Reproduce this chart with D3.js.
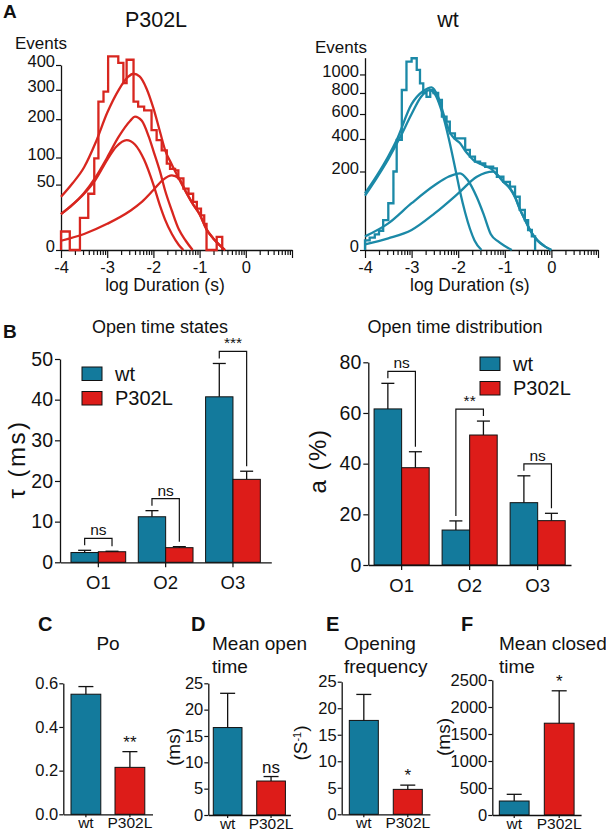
<!DOCTYPE html>
<html><head><meta charset="utf-8">
<script src="https://cdn.jsdelivr.net/npm/d3@7"></script>
<style>
body{margin:0;background:#fff}
svg{display:block}
text{font-family:"Liberation Sans",Arial,Helvetica,sans-serif;fill:#111}
</style>
</head><body>
<svg id="fig" width="606" height="833"></svg>
<script>
// ================= DATA =================
// Panel A: dwell-time histograms (log10 duration in s, events on sqrt axis)
const logMajorTicks = [-4, -3, -2, -1, 0, 1];
const p302lEventTicks = [0, 50, 100, 200, 300, 400];
const wtEventTicks = [0, 200, 400, 600, 800, 1000];

const p302lBinEdges = [-4.0, -3.81, -3.59, -3.41, -3.28, -3.19, -3.08, -2.98, -2.76, -2.65, -2.58, -2.43, -2.33, -2.2, -2.04, -1.93, -1.82, -1.71, -1.64, -1.53, -1.46, -1.35, -1.24, -1.14, -1.06, -0.97, -0.90, -0.85, -0.63, -0.51];
const p302lCounts   = [4, 0, 12, 37, 98, 257, 293, 438, 409, 326, 423, 257, 240, 228, 168, 141, 116, 87, 77, 74, 60, 44, 37, 27, 20, 14, 8, 0, 2];

const p302lFitTotal = [[-4.0,33],[-3.75,52],[-3.5,80],[-3.25,135],[-3.0,220],[-2.75,300],[-2.55,350],[-2.43,363],[-2.3,352],[-2.15,305],[-2.0,235],[-1.85,160],[-1.75,118],[-1.6,85],[-1.45,60],[-1.3,40],[-1.15,25],[-1.0,15],[-0.85,5],[-0.7,1.5],[-0.55,0.2],[-0.45,0]];
const p302lFitComp1 = [[-4.0,15],[-3.75,24],[-3.5,37],[-3.25,58],[-3.0,95],[-2.8,125],[-2.58,141],[-2.4,130],[-2.2,95],[-2.0,50],[-1.85,22],[-1.75,11],[-1.6,3],[-1.45,0.3],[-1.35,0]];
const p302lFitComp2 = [[-4.0,15],[-3.75,24],[-3.5,38],[-3.25,62],[-3.0,100],[-2.75,150],[-2.5,195],[-2.4,208],[-2.25,195],[-2.1,150],[-2.0,115],[-1.85,70],[-1.75,42],[-1.6,18],[-1.45,5],[-1.3,1],[-1.15,0]];
const p302lFitComp3 = [[-4.0,1],[-3.5,3],[-3.0,8],[-2.5,18],[-2.25,27],[-2.0,42],[-1.8,57],[-1.6,65],[-1.45,60],[-1.3,40],[-1.15,25],[-1.0,15],[-0.85,5],[-0.7,1.5],[-0.55,0.2],[-0.45,0]];

const wtBinEdges = [-4.0, -3.9, -3.79, -3.7, -3.61, -3.5, -3.39, -3.32, -3.21, -3.11, -3.0, -2.89, -2.82, -2.75, -2.68, -2.6, -2.53, -2.43, -2.35, -2.25, -2.18, -2.07, -1.96, -1.85, -1.75, -1.64, -1.53, -1.42, -1.25, -1.17, -1.03, -0.89, -0.78, -0.68, -0.57, -0.50, -0.42, -0.35];
const wtCounts   = [3, 5, 8, 12, 29, 71, 200, 393, 831, 1151, 1193, 1052, 902, 800, 760, 830, 800, 730, 577, 535, 442, 405, 405, 325, 283, 253, 244, 225, 216, 174, 151, 130, 92, 52, 29, 13, 6];

const wtFitTotal = [[-4.0,104],[-3.75,178],[-3.5,285],[-3.32,393],[-3.0,690],[-2.75,820],[-2.57,859],[-2.43,760],[-2.3,580],[-2.18,450],[-2.07,400],[-1.96,370],[-1.85,320],[-1.75,285],[-1.64,255],[-1.53,242],[-1.42,228],[-1.3,215],[-1.17,185],[-1.03,152],[-0.89,125],[-0.78,92],[-0.68,55],[-0.57,30],[-0.45,12],[-0.3,3],[-0.15,0.5],[0.0,0]];
const wtFitComp1 = [[-4.0,96],[-3.75,168],[-3.5,268],[-3.25,410],[-3.0,600],[-2.8,760],[-2.62,830],[-2.5,790],[-2.35,620],[-2.2,400],[-2.05,200],[-1.96,110],[-1.85,45],[-1.75,15],[-1.65,3],[-1.5,0]];
const wtFitComp2 = [[-4.0,6],[-3.5,23],[-3.0,71],[-2.5,137],[-2.2,175],[-1.96,191],[-1.8,160],[-1.6,90],[-1.45,40],[-1.3,8],[-1.15,2.5],[-1.0,0.5],[-0.85,0]];
const wtFitComp3 = [[-4.0,1],[-3.5,4.4],[-3.0,13],[-2.5,44],[-2.0,104],[-1.6,174],[-1.25,199],[-1.03,150],[-0.89,122],[-0.78,90],[-0.68,55],[-0.57,30],[-0.45,12],[-0.3,3],[-0.15,0.5],[0.0,0]];

// Panel B
const states = ["O1", "O2", "O3"];
const genotypes = ["wt", "P302L"];
const tauTicks = [0, 10, 20, 30, 40, 50];
const tauWt = [2.4, 11.2, 40.7];
const tauWtErr = [0.55, 1.5, 8.2];
const tauP302L = [2.6, 3.6, 20.4];
const tauP302LErr = [0.12, 0.25, 2.0];
const tauSig = ["ns", "ns", "***"];

const areaTicks = [0, 20, 40, 60, 80];
const areaWt = [61.6, 13.8, 24.6];
const areaWtErr = [10.1, 3.6, 10.6];
const areaP302L = [38.4, 51.3, 17.5];
const areaP302LErr = [6.3, 5.5, 2.9];
const areaSig = ["ns", "**", "ns"];

// Panels C-F (wt, P302L)
const poTicks = [0, 0.2, 0.4, 0.6];
const poValues = [0.55, 0.215];
const poErr = [0.035, 0.072];
const poSig = "**";

const meanOpenTicks = [0, 5, 10, 15, 20, 25];
const meanOpenValues = [16.6, 6.45];
const meanOpenErr = [6.5, 0.85];
const meanOpenSig = "ns";

const openFreqTicks = [0, 5, 10, 15, 20, 25];
const openFreqValues = [17.7, 4.7];
const openFreqErr = [4.9, 0.8];
const openFreqSig = "*";

const meanClosedTicks = [0, 500, 1000, 1500, 2000, 2500];
const meanClosedValues = [259, 1700];
const meanClosedErr = [124, 600];
const meanClosedSig = "*";

// ================= STYLE =================
const BLUE = "#137a9c", RED = "#dd1c19";
const LRED = "#d8261f", LBLUE = "#1b89a7";
const svg = d3.select("#fig");

function label(x, y, s, size, opts = {}) {
  const t = svg.append("text").attr("x", x).attr("y", y).attr("font-size", size)
    .attr("text-anchor", opts.anchor || "start").text(s);
  if (opts.bold) t.attr("font-weight", "bold");
  return t;
}
function rotLabel(cx, cy, s, size, spacing) {
  return svg.append("text").attr("transform", `translate(${cx},${cy}) rotate(-90)`)
    .attr("text-anchor", "middle").attr("dy", "0.35em").attr("font-size", size)
    .attr("letter-spacing", spacing || 0).text(s);
}
function styleAxis(g, size) {
  g.select(".domain").attr("stroke", "#111").attr("stroke-width", 1.3);
  g.selectAll(".tick line").attr("stroke", "#111").attr("stroke-width", 1.2);
  g.selectAll(".tick text").attr("font-size", size).attr("fill", "#111")
    .attr("font-family", '"Liberation Sans",Arial,sans-serif');
}

// ================= PANEL A =================
function histPanel(cfg) {
  const x = d3.scaleLinear().domain([-4, 1]).range(cfg.xRange);
  const y = d3.scaleSqrt().domain(cfg.yDomain).range(cfg.yRange);
  const g = svg.append("g");
  const minor = [];
  [-4, -3, -2, -1, 0].forEach(d => [2,3,4,5,6,7,8,9].forEach(k => minor.push(d + Math.log10(k))));
  const xm = g.append("g").attr("transform", `translate(0,${cfg.yRange[0]})`)
    .call(d3.axisBottom(x).tickValues(minor).tickSize(5).tickFormat(""));
  xm.select(".domain").remove(); styleAxis(xm, 16);
  const xa = g.append("g").attr("transform", `translate(0,${cfg.yRange[0]})`)
    .call(d3.axisBottom(x).tickValues(logMajorTicks).tickSize(8).tickSizeOuter(0)
      .tickFormat(d => d === 1 ? "" : String(d)));
  styleAxis(xa, 16.5);
  const ya = g.append("g").attr("transform", `translate(${cfg.xRange[0]},0)`)
    .call(d3.axisLeft(y).tickValues(cfg.yTicks).tickSize(5).tickSizeOuter(0).tickPadding(1)
      .tickFormat(d3.format("d")));
  styleAxis(ya, 16.5);
  ya.selectAll(".tick text").attr("dy", "0.12em");

  const hp = [[cfg.edges[0], 0]];
  cfg.counts.forEach((c, i) => hp.push([cfg.edges[i], c]));
  hp.push([cfg.edges[cfg.edges.length - 1], 0]);
  g.append("path").datum(hp).attr("fill", "none").attr("stroke", cfg.color).attr("stroke-width", 2.3)
    .attr("d", d3.line().x(d => x(d[0])).y(d => y(d[1])).curve(d3.curveStepAfter));
  const ln = d3.line().x(d => x(d[0])).y(d => y(d[1])).curve(d3.curveMonotoneX);
  cfg.curves.forEach(c => g.append("path").datum(c).attr("fill", "none")
    .attr("stroke", cfg.color).attr("stroke-width", 2.3).attr("d", ln));

  label(cfg.titleX, 27, cfg.title, 21.5, { anchor: "middle" });
  label(cfg.eventsX, cfg.eventsY, "Events", 17);
  label(x(-1.75), 291, "log Duration (s)", 17.5, { anchor: "middle" });
}
histPanel({ xRange: [61, 292], yDomain: [0, 400], yRange: [250, 65], yTicks: p302lEventTicks,
  edges: p302lBinEdges, counts: p302lCounts, color: LRED,
  curves: [p302lFitTotal, p302lFitComp1, p302lFitComp2, p302lFitComp3],
  title: "P302L", titleX: 156, eventsX: 15, eventsY: 49 });
histPanel({ xRange: [365, 598], yDomain: [0, 1200], yRange: [250, 57.7], yTicks: wtEventTicks,
  edges: wtBinEdges, counts: wtCounts, color: LBLUE,
  curves: [wtFitTotal, wtFitComp1, wtFitComp2, wtFitComp3],
  title: "wt", titleX: 448, eventsX: 315, eventsY: 53 });
label(3, 18, "A", 19, { bold: true });

// ================= PANEL B =================
function groupedPanel(cfg) {
  const x0 = d3.scaleBand().domain(states).range(cfg.xRange).paddingInner(cfg.pi).paddingOuter(cfg.po);
  const x1 = d3.scaleBand().domain(genotypes).range([0, x0.bandwidth()]);
  const y = d3.scaleLinear().domain(cfg.yDomain).range(cfg.yRange);
  const g = svg.append("g");
  const series = [
    { v: cfg.wt, e: cfg.wtErr, c: BLUE, k: "wt" },
    { v: cfg.p, e: cfg.pErr, c: RED, k: "P302L" }];
  series.forEach(s => {
    states.forEach((st, i) => {
      const bx = x0(st) + x1(s.k), w = x1.bandwidth(), cx = bx + w / 2;
      g.append("rect").attr("x", bx).attr("y", y(s.v[i])).attr("width", w)
        .attr("height", y(0) - y(s.v[i])).attr("fill", s.c).attr("stroke", "#111").attr("stroke-width", 1);
      const top = y(s.v[i] + s.e[i]);
      g.append("line").attr("x1", cx).attr("x2", cx).attr("y1", y(s.v[i])).attr("y2", top)
        .attr("stroke", "#111").attr("stroke-width", 1.3);
      g.append("line").attr("x1", cx - 6.5).attr("x2", cx + 6.5).attr("y1", top).attr("y2", top)
        .attr("stroke", "#111").attr("stroke-width", 1.3);
    });
  });
  states.forEach((st, i) => {
    const cw = x0(st) + x1("wt") + x1.bandwidth() / 2;
    const cp = x0(st) + x1("P302L") + x1.bandwidth() / 2;
    const tw = y(cfg.wt[i] + cfg.wtErr[i]), tp = y(cfg.p[i] + cfg.pErr[i]);
    const top = Math.min(tw, tp) - 12;
    g.append("path").attr("fill", "none").attr("stroke", "#111").attr("stroke-width", 1.2)
      .attr("d", `M${cw},${tw - 5}V${top}H${cp}V${tp - 5}`);
    label((cw + cp) / 2, top - 3, cfg.sig[i], 15.5, { anchor: "middle" });
  });
  const xa = g.append("g").attr("transform", `translate(0,${cfg.yRange[0]})`)
    .call(d3.axisBottom(x0).tickSize(5).tickSizeOuter(0).tickPadding(9));
  styleAxis(xa, 18.5);
  const ya = g.append("g").attr("transform", `translate(${cfg.xRange[0]},0)`)
    .call(d3.axisLeft(y).tickValues(cfg.ticks).tickSize(5).tickSizeOuter(0).tickPadding(2));
  styleAxis(ya, 19.5);
  label(cfg.titleX, 333, cfg.title, 18, { anchor: "middle" });
  rotLabel(cfg.ylabX, cfg.ylabY, cfg.ylab, 24, cfg.ylabSpacing);
  // legend
  series.forEach((s, j) => {
    g.append("rect").attr("x", cfg.legX).attr("y", cfg.legY + j * 24.5).attr("width", 20).attr("height", 13.5)
      .attr("fill", s.c).attr("stroke", "#111").attr("stroke-width", 1);
    label(cfg.legX + 33, cfg.legY + j * 24.5 + 13.5, s.k, 20);
  });
}
groupedPanel({ xRange: [60, 271.3], pi: 0.187, po: 0.163, yDomain: [0, 50], yRange: [562.3, 359],
  ticks: tauTicks, wt: tauWt, wtErr: tauWtErr, p: tauP302L, pErr: tauP302LErr, sig: tauSig,
  title: "Open time states", titleX: 160, ylab: "τ (ms)", ylabSpacing: 2.5, ylabX: 17, ylabY: 459, legX: 82, legY: 367 });
groupedPanel({ xRange: [368.3, 571], pi: 0.19, po: 0.085, yDomain: [0, 80], yRange: [565, 362.3],
  ticks: areaTicks, wt: areaWt, wtErr: areaWtErr, p: areaP302L, pErr: areaP302LErr, sig: areaSig,
  title: "Open time distribution", titleX: 455, ylab: "a (%)", ylabSpacing: 1.5, ylabX: 318, ylabY: 461, legX: 480, legY: 357 });
label(3, 338, "B", 19, { bold: true });

// ================= PANELS C-F =================
function smallPanel(cfg) {
  const x = d3.scaleBand().domain(genotypes).range(cfg.xRange).paddingInner(cfg.pi).paddingOuter(cfg.po);
  const y = d3.scaleLinear().domain([0, cfg.ticks[cfg.ticks.length - 1]]).range(cfg.yRange);
  const g = svg.append("g");
  const cols = [BLUE, RED];
  genotypes.forEach((k, i) => {
    const bx = x(k), w = x.bandwidth(), cx = bx + w / 2;
    g.append("rect").attr("x", bx).attr("y", y(cfg.values[i])).attr("width", w)
      .attr("height", y(0) - y(cfg.values[i])).attr("fill", cols[i]).attr("stroke", "#111").attr("stroke-width", 1);
    const top = y(cfg.values[i] + cfg.err[i]);
    g.append("line").attr("x1", cx).attr("x2", cx).attr("y1", y(cfg.values[i])).attr("y2", top)
      .attr("stroke", "#111").attr("stroke-width", 1.3);
    g.append("line").attr("x1", cx - 7.5).attr("x2", cx + 7.5).attr("y1", top).attr("y2", top)
      .attr("stroke", "#111").attr("stroke-width", 1.3);
    if (i === 1) label(cx, top - 4, cfg.sig, 17, { anchor: "middle" });
  });
  const xa = g.append("g").attr("transform", `translate(0,${cfg.yRange[0]})`)
    .call(d3.axisBottom(x).tickSize(3).tickSizeOuter(0).tickPadding(0));
  styleAxis(xa, 15.5);
  const ya = g.append("g").attr("transform", `translate(${cfg.xRange[0]},0)`)
    .call(d3.axisLeft(y).tickValues(cfg.ticks).tickSize(4).tickSizeOuter(0).tickPadding(1)
      .tickFormat(cfg.fmt));
  styleAxis(ya, 16.5);
  cfg.title.forEach((t, j) => label(cfg.titleX, 650 + j * 22.5, t, 19, { anchor: cfg.titleAnchor || "start" }));
  label(cfg.letterX, 630.5, cfg.letter, 20, { bold: true });
  if (cfg.ylab) {
    const t = svg.append("text").attr("transform", `translate(${cfg.ylabX},${cfg.ylabY}) rotate(-90)`)
      .attr("text-anchor", "middle").attr("dy", "0.35em").attr("font-size", 19);
    cfg.ylab.forEach(p => {
      const ts = t.append("tspan").text(p.t);
      if (p.sup) ts.attr("baseline-shift", "super").attr("font-size", 11);
    });
  }
}
smallPanel({ xRange: [63.3, 152.5], pi: 0.323, po: 0.175, yRange: [814.3, 683.3], ticks: poTicks,
  fmt: d3.format(".1f"), values: poValues, err: poErr, sig: poSig,
  title: ["Po"], titleX: 108, titleAnchor: "middle", letter: "C", letterX: 38 });
smallPanel({ xRange: [208.3, 290.4], pi: 0.339, po: 0.115, yRange: [815, 683.3], ticks: meanOpenTicks,
  fmt: d3.format("d"), values: meanOpenValues, err: meanOpenErr, sig: meanOpenSig,
  title: ["Mean open", "time"], titleX: 212, letter: "D", letterX: 191,
  ylab: [{ t: "(ms)" }], ylabX: 173.3, ylabY: 747 });
smallPanel({ xRange: [341.7, 429.9], pi: 0.34, po: 0.173, yRange: [814.3, 681.7], ticks: openFreqTicks,
  fmt: d3.format("d"), values: openFreqValues, err: openFreqErr, sig: openFreqSig,
  title: ["Opening", "frequency"], titleX: 344, letter: "E", letterX: 326,
  ylab: [{ t: "(S" }, { t: "-1", sup: true }, { t: ")" }], ylabX: 300, ylabY: 743 });
smallPanel({ xRange: [492.3, 581.1], pi: 0.338, po: 0.156, yRange: [815, 680], ticks: meanClosedTicks,
  fmt: d3.format("d"), values: meanClosedValues, err: meanClosedErr, sig: meanClosedSig,
  title: ["Mean closed", "time"], titleX: 499, letter: "F", letterX: 461,
  ylab: [{ t: "(ms)" }], ylabX: 443.3, ylabY: 737 });
</script>
</body></html>
